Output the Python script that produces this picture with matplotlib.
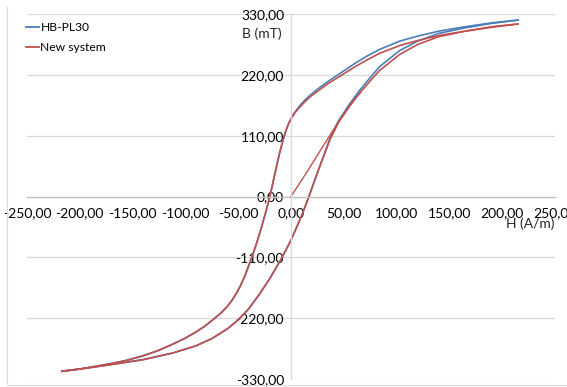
import numpy as np
import matplotlib
matplotlib.use("Agg")
import matplotlib.pyplot as plt
from matplotlib.lines import Line2D

plt.rcParams['font.family'] = ['Lato', 'DejaVu Sans']

# descending branch (H from +max to -max)
H_desc = [215, 190, 165, 140, 120, 103, 84, 72, 60, 46, 35, 25, 18, 13, 8, 4, 1, -2, -5, -8,
          -11, -14, -17, -20, -24, -28, -32, -36, -40, -44, -48, -52, -56, -60, -66, -74,
          -82, -90, -100, -112, -125, -140, -155, -170, -185, -200, -217]
B_desc_hb = [319, 314, 307, 299, 290, 281, 266, 254, 240, 222, 208, 194, 183, 174, 163.5, 153.5, 144.5, 133, 118, 99,
             77, 52, 26, 0, -29, -56, -81, -104, -125, -145, -162, -176, -188, -198, -210, -223,
             -235, -245, -256, -267, -278, -288, -296, -302, -307, -312, -316]
B_desc_new = [312, 307, 299, 291, 282, 273, 259, 247, 234, 217, 204, 190, 180, 171, 161, 152, 143.5, 133, 118, 99,
              77, 52, 26, 0, -29, -56, -81, -104, -125, -145, -162, -176, -188, -198, -210, -223,
              -235, -245, -256, -267, -278, -288, -296, -302, -307, -312, -316]

# ascending branch (H from -max to +max)
H_asc = [-217, -200, -174, -140, -112, -90, -75, -60, -50, -40, -30, -20, -9, 0, 10, 17, 25, 37,
         45, 55, 65, 75, 84, 103, 120, 140, 165, 190, 215]
B_asc_hb = [-316, -312, -305, -295, -283, -270, -257, -239, -223, -203, -177, -148, -112, -79, -35, 0, 43, 106,
            137, 166, 192, 215, 235, 264, 281, 295, 305, 313, 319]
B_asc_new = [-316, -312, -305, -295, -283, -270, -257, -239, -223, -203, -177, -148, -112, -79, -35, 0, 43, 103,
             134, 162, 187, 209, 228, 257, 275, 289, 299, 306, 312]

# initial magnetisation curve of the new system
H_virgin = [0, 15, 30, 45, 55, 62, 66]
B_virgin = [0, 44, 90, 135, 163, 180, 188]

y_ticks = [-330, -220, -110, 0, 110, 220, 330]
x_ticks = [-250, -200, -150, -100, -50, 0, 50, 100, 150, 200, 250]

blue = '#4A7EBB'
red = '#C0504D'
grid_col = '#D9D9D9'

fig = plt.figure(figsize=(5.67, 3.87), dpi=100)
ax = fig.add_axes([27/567, 1 - 379/387, 528/567, 365/387])

ax.plot(H_desc, B_desc_hb, color=blue, lw=1.2, solid_joinstyle='round')
ax.plot(H_asc, B_asc_hb, color=blue, lw=1.2, solid_joinstyle='round')
ax.plot(H_virgin, B_virgin, color=red, lw=1.0)
ax.plot(H_desc, B_desc_new, color=red, lw=1.2, solid_joinstyle='round')
ax.plot(H_asc, B_asc_new, color=red, lw=1.2, solid_joinstyle='round')

ax.set_xlim(-250, 250)
ax.set_ylim(-330, 330)
ax.set_xticks(x_ticks)
ax.set_yticks(y_ticks)
fmt = lambda v: f"{v:.2f}".replace('.', ',')
ax.set_xticklabels([fmt(v) for v in x_ticks], fontsize=6.3, color='#404040')
ax.set_yticklabels([fmt(v) for v in y_ticks], fontsize=6.3, color='#404040')
ax.tick_params(axis='x', length=0, pad=8)
ax.tick_params(axis='y', length=0, pad=5)

ax.yaxis.grid(True, color=grid_col, lw=0.9)
ax.set_axisbelow(True)
for s in ['top', 'right']:
    ax.spines[s].set_visible(False)
ax.spines['left'].set_position(('data', 0))
ax.spines['bottom'].set_position(('data', 0))
ax.spines['left'].set_color(grid_col)
ax.spines['bottom'].set_color('#BFBFBF')
ax.spines['left'].set_linewidth(0.9)
ax.spines['bottom'].set_linewidth(0.9)

ax.text(-9, 295, 'B (mT)', ha='right', va='center', fontsize=10, color='#262626')
ax.text(250, -49, 'H (A/m)', ha='right', va='center', fontsize=10, color='#262626')

handles = [Line2D([], [], color=blue, lw=1.3), Line2D([], [], color=red, lw=1.3)]
fig.legend(handles, ['HB-PL30', 'New system'], loc='upper left',
           bbox_to_anchor=(26/567, 1 - 22/387), frameon=False, fontsize=8.7,
           handlelength=1.05, handletextpad=0.15, labelspacing=0.75,
           borderpad=0, borderaxespad=0)

# outer chart border pieces
fig.add_artist(Line2D([7/567, 7/567], [1 - 383/387, 1 - 7/387], color=grid_col, lw=0.8))
fig.add_artist(Line2D([7/567, 1], [1 - 385/387, 1 - 385/387], color=grid_col, lw=0.8))

fig.savefig('out.png', dpi=100)
